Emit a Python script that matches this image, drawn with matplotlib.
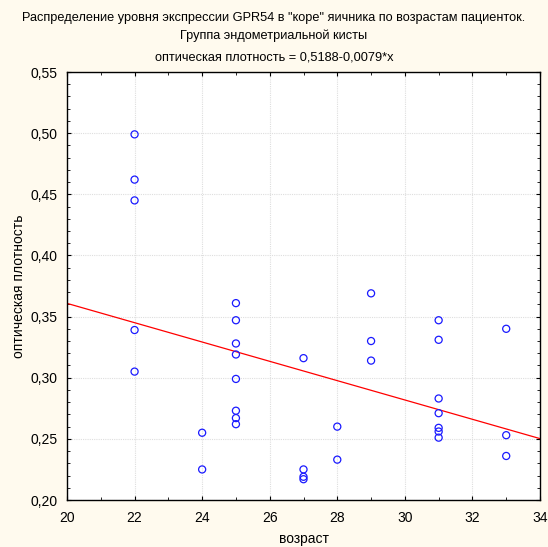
import matplotlib
matplotlib.use("Agg")
import matplotlib.pyplot as plt
from matplotlib.ticker import MultipleLocator, FuncFormatter
import numpy as np

# Data
age = [22, 22, 22, 22, 22,
       24, 24,
       25, 25, 25, 25, 25, 25, 25, 25,
       27, 27, 27, 27,
       28, 28,
       29, 29, 29,
       31, 31, 31, 31, 31, 31, 31,
       33, 33, 33]
density = [0.499, 0.462, 0.445, 0.339, 0.305,
           0.255, 0.225,
           0.361, 0.347, 0.328, 0.319, 0.299, 0.273, 0.267, 0.262,
           0.316, 0.225, 0.219, 0.217,
           0.260, 0.233,
           0.369, 0.330, 0.314,
           0.347, 0.331, 0.283, 0.271, 0.259, 0.256, 0.251,
           0.340, 0.253, 0.236]
intercept = 0.5188
slope = -0.0079
x_range = [20, 34]

title = ('Распределение уровня экспрессии GPR54 в "коре" яичника по возрастам пациенток.\n'
         'Группа эндометриальной кисты')
subtitle = 'оптическая плотность = 0,5188-0,0079*x'
xlabel = 'возраст'
ylabel = 'оптическая плотность'

plt.rcParams['font.family'] = ['Liberation Sans', 'DejaVu Sans']
bg = '#FFFAEE'

fig = plt.figure(figsize=(5.48, 5.47), dpi=100, facecolor=bg)
ax = fig.add_axes([67/548, 47/547, 473/548, 428/547])
ax.set_facecolor('white')

ax.grid(True, which='major', color='#dedede', linestyle=(0, (1, 1)), linewidth=0.8)
ax.set_axisbelow(True)

xl = np.array(x_range, dtype=float)
ax.plot(xl, intercept + slope * xl, color='red', linewidth=0.9, zorder=2)
ax.scatter(age, density, s=26, facecolors='none', edgecolors='#1a1aff',
           linewidths=0.9, zorder=3)

ax.set_xlim(20, 34)
ax.set_ylim(0.20, 0.55)
ax.xaxis.set_major_locator(MultipleLocator(2))
ax.xaxis.set_minor_locator(MultipleLocator(1))
ax.yaxis.set_major_locator(MultipleLocator(0.05))
ax.yaxis.set_minor_locator(MultipleLocator(0.01))
ax.yaxis.set_major_formatter(FuncFormatter(lambda v, p: f'{v:.2f}'.replace('.', ',')))
ax.tick_params(which='both', direction='in', top=True, right=True, labelsize=10)
ax.tick_params(axis='x', which='major', pad=8)
ax.tick_params(axis='y', which='major', pad=7)
ax.tick_params(which='major', length=3)
ax.tick_params(which='minor', length=2.5)
for sp in ax.spines.values():
    sp.set_linewidth(1.0)

ax.set_xlabel(xlabel, fontsize=10, va='center')
ax.set_ylabel(ylabel, fontsize=10, va='center')
ax.xaxis.set_label_coords(0.5 * (67 + 540) / 548, 1 - 539/547, transform=fig.transFigure)
ax.yaxis.set_label_coords(19/548, 1 - 286/547, transform=fig.transFigure)

fig.text(0.5, 1 - 27/547, title, ha='center', va='center', fontsize=9.2, linespacing=1.55)
fig.text(0.5, 1 - 57/547, subtitle, ha='center', va='center', fontsize=9.2)

fig.savefig('out.png', dpi=100, facecolor=bg)
